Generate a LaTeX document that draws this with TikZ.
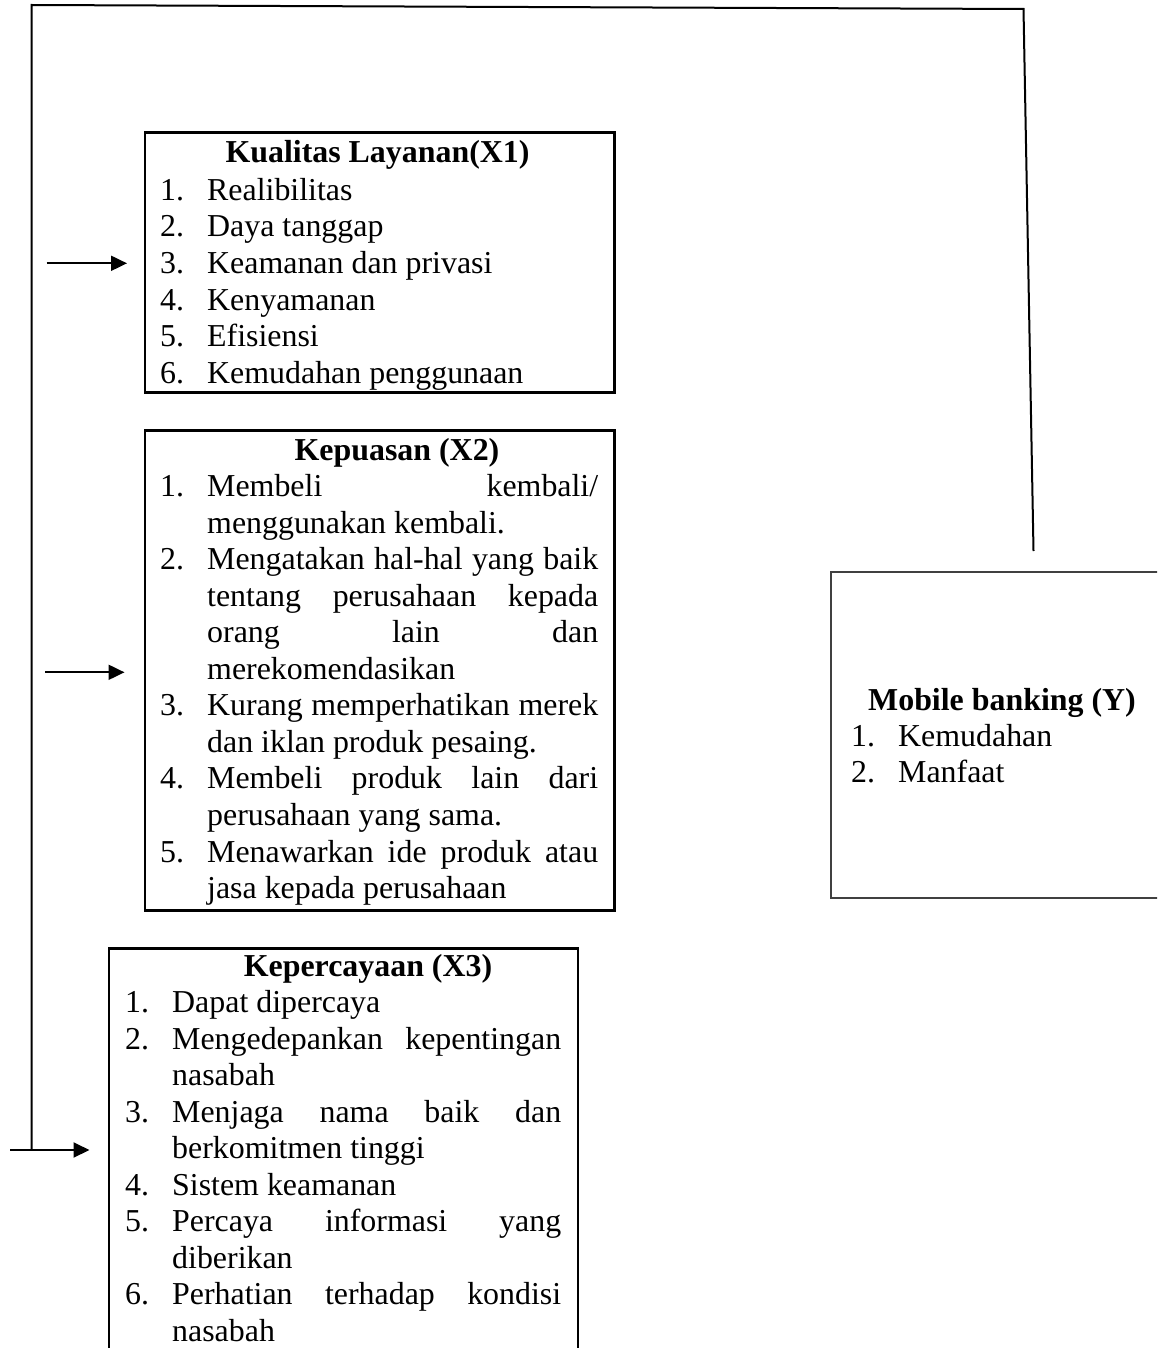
\documentclass[tikz,border=0pt]{standalone}
\usepackage{fontspec}
\setmainfont{Liberation Serif}
\usetikzlibrary{arrows.meta}
\newcommand{\fsz}{\fontsize{31.9pt}{36.55pt}\selectfont}
\newcommand{\numitem}[2]{\makebox[47pt][l]{#1}#2\par}
\newcommand{\numjust}[3]{\makebox[47pt][l]{#1}\makebox[#3][s]{#2}\par}
\newcommand{\contitem}[1]{\hspace*{47pt}#1\par}
\newcommand{\contjust}[2]{\hspace*{47pt}\makebox[#2][s]{#1}\par}
\begin{document}
\begin{tikzpicture}[x=1pt,y=-1pt,
  box/.style={draw, line width=2.6pt, rectangle, inner sep=0pt, anchor=north west},
  conn/.style={line width=2pt},
  arr/.style={line width=2pt, -{Triangle[length=16pt,width=15pt]}},
  ttl/.style={font=\fsz\bfseries, anchor=base, inner sep=0pt},
  lst/.style={font=\fsz, anchor=base west, inner sep=0pt}]
\useasboundingbox (0,0) rectangle (1157,1348);
\clip (0,0) rectangle (1157,1348);

% boxes
\node[box, minimum width=469.5pt, minimum height=260pt] (x1) at (143.5,131) {};
\node[box, minimum width=469.5pt, minimum height=480pt] (x2) at (143.5,429) {};
\node[box, minimum width=469pt, minimum height=440pt] (x3) at (107.5,947) {};
\node[box, draw=black!75, line width=1.5pt, minimum width=360pt, minimum height=326pt] (y) at (830,571) {};

% titles
\node[ttl] (x1h) at (377.5,162.5) {Kualitas Layanan(X1)};
\node[ttl] (x2h) at (397,460.5) {Kepuasan (X2)};
\node[ttl] (x3h) at (368,976.5) {Kepercayaan (X3)};
\node[ttl] (yh) at (1002,710.5) {Mobile banking (Y)};

% lists
\node[lst] (x1l) at (160,200.4) {\begin{minipage}[t]{460pt}\fsz
\numitem{1.}{Realibilitas}
\numitem{2.}{Daya tanggap}
\numitem{3.}{Keamanan dan privasi}
\numitem{4.}{Kenyamanan}
\numitem{5.}{Efisiensi}
\numitem{6.}{Kemudahan penggunaan}
\end{minipage}};

\node[lst] (x2l) at (160,496.5) {\begin{minipage}[t]{460pt}\fsz
\numjust{1.}{Membeli kembali/}{391pt}
\contitem{menggunakan kembali.}
\numjust{2.}{Mengatakan hal-hal yang baik}{391pt}
\contjust{tentang perusahaan kepada}{391pt}
\contjust{orang lain dan}{391pt}
\contitem{merekomendasikan}
\numjust{3.}{Kurang memperhatikan merek}{391pt}
\contitem{dan iklan produk pesaing.}
\numjust{4.}{Membeli produk lain dari}{391pt}
\contitem{perusahaan yang sama.}
\numjust{5.}{Menawarkan ide produk atau}{391pt}
\contitem{jasa kepada perusahaan}
\end{minipage}};

\node[lst] (x3l) at (125,1012.5) {\begin{minipage}[t]{460pt}\fsz
\numitem{1.}{Dapat dipercaya}
\numjust{2.}{Mengedepankan kepentingan}{389pt}
\contitem{nasabah}
\numjust{3.}{Menjaga nama baik dan}{389pt}
\contitem{berkomitmen tinggi}
\numitem{4.}{Sistem keamanan}
\numjust{5.}{Percaya informasi yang}{389pt}
\contitem{diberikan}
\numjust{6.}{Perhatian terhadap kondisi}{389pt}
\contitem{nasabah}
\end{minipage}};

\node[lst] (yl) at (851,746) {\begin{minipage}[t]{300pt}\fsz
\numitem{1.}{Kemudahan}
\numitem{2.}{Manfaat}
\end{minipage}};

% connectors
\coordinate (yt) at (1033.5,551);
\coordinate (tr) at (1023.5,9);
\coordinate (tl) at (31.5,5);
\coordinate (bl) at (31.5,1150);
\draw[conn] (yt) -- (tr) -- (tl) -- (bl);

\coordinate (a1) at (46.5,263.3);
\coordinate (a2) at (45,672.3);
\coordinate (a3) at (10,1150);
\draw[arr] (a1) -- ([xshift=-16.5pt]a1 -| x1.west);
\draw[arr] (a2) -- ([xshift=-19pt]a2 -| x2.west);
\draw[arr] (a3) -- ([xshift=-18pt]a3 -| x3.west);
\end{tikzpicture}
\end{document}
